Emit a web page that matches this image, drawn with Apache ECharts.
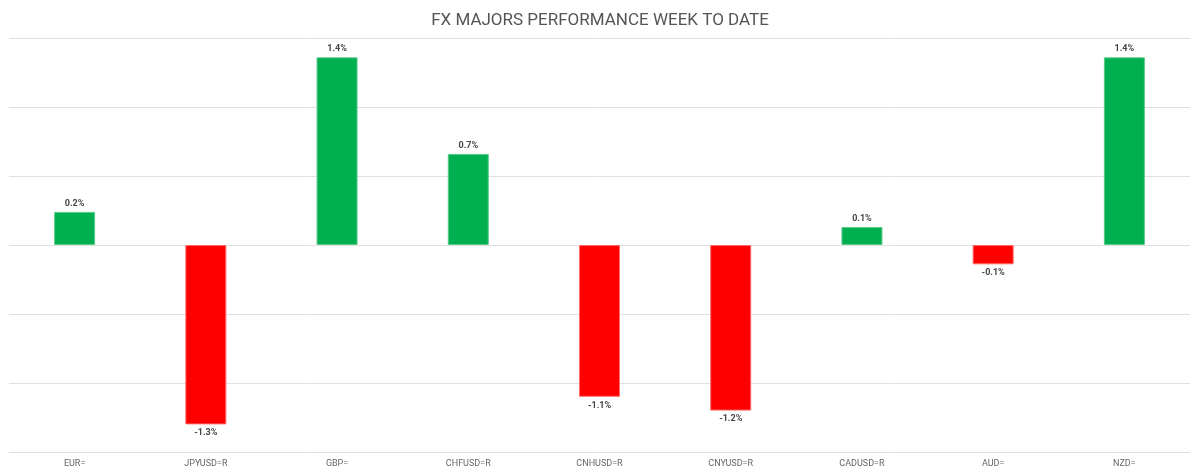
<!DOCTYPE html>
<html>
<head>
<meta charset="utf-8">
<script src="https://cdn.jsdelivr.net/npm/echarts@6/dist/echarts.min.js"></script>
<style>
  html, body { margin: 0; padding: 0; background: #fff; }
  #chart { width: 1200px; height: 476px; }
</style>
</head>
<body>
<div id="chart"></div>
<script>
const categories = ['EUR=', 'JPYUSD=R', 'GBP=', 'CHFUSD=R', 'CNHUSD=R', 'CNYUSD=R', 'CADUSD=R', 'AUD=', 'NZD=']
const changes = [0.24, -1.30, 1.36, 0.66, -1.10, -1.20, 0.13, -0.14, 1.36]

const chart = echarts.init(document.getElementById('chart'))

const options = {
  animation: false,
  title: {
    text: 'FX MAJORS PERFORMANCE WEEK TO DATE',
    left: 'center',
    top: 7,
    textStyle: {
      fontFamily: 'Roboto',
      fontSize: 17,
      fontWeight: 'normal',
      color: '#555'
    }
  },
  grid: {
    top: 38,
    left: 9,
    right: 10,
    bottom: 24
  },
  xAxis: {
    type: 'category',
    data: categories,
    axisLine: { show: false },
    axisTick: { show: false },
    axisLabel: {
      fontFamily: 'Roboto',
      fontSize: 9,
      color: '#666',
      margin: 7
    }
  },
  yAxis: {
    type: 'value',
    min: -1.5,
    max: 1.5,
    interval: 0.5,
    axisLabel: { show: false },
    axisLine: { show: false },
    axisTick: { show: false },
    splitLine: { lineStyle: { color: '#e0e0e0', width: 1 } }
  },
  series: [{
    type: 'bar',
    barWidth: 41,
    data: changes.map((v) => ({
      value: v,
      itemStyle: {
        color: v >= 0 ? '#00b050' : '#ff0000',
        borderColor: v >= 0 ? '#5cc98a' : '#ff6a6a',
        borderWidth: 1
      },
      label: { position: v >= 0 ? 'top' : 'bottom' }
    })),
    label: {
      show: true,
      distance: 4,
      fontFamily: 'Roboto',
      fontSize: 9,
      fontWeight: 'bold',
      color: '#444',
      formatter: (p) => (Math.round(p.value * 10) / 10).toFixed(1) + '%'
    }
  }]
}
chart.setOption(options)
</script>
</body>
</html>
